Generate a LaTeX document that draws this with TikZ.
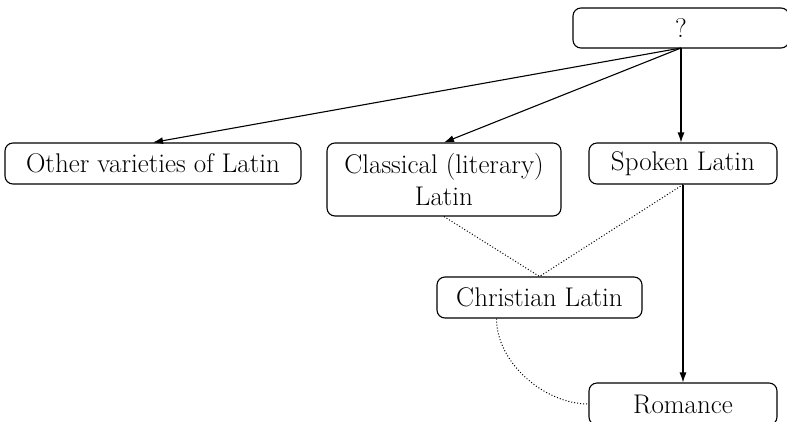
\documentclass[tikz,border=0pt]{standalone}
\usetikzlibrary{arrows.meta}
\begin{document}
\begin{tikzpicture}[x=1pt,y=1pt,
  box/.style={draw, line width=1.1pt, rounded corners=8pt, align=center, inner sep=0pt,
    font=\fontsize{27}{32}\selectfont},
  arr/.style={line width=1.1pt, -{Latex[length=10pt,width=7pt]}},
  dot/.style={line width=1pt, dotted}]
\clip (0,0) rectangle (787,-421);
\useasboundingbox (0,0) rectangle (787,-421);
\node[box, minimum width=216pt, minimum height=40pt] (q) at (681,-28) {?};
\node[box, minimum width=296pt, minimum height=41pt] (other) at (153,-163.5) {Other varieties of Latin};
\node[box, minimum width=234pt, minimum height=73pt] (classical) at (444,-179.5) {Classical (literary)\\Latin};
\node[box, minimum width=188pt, minimum height=41pt] (spoken) at (683,-163.5) {Spoken Latin};
\node[box, minimum width=205pt, minimum height=41pt] (christian) at (539.5,-297.5) {Christian Latin};
\node[box, minimum width=188pt, minimum height=42pt] (romance) at (683,-404) {Romance};
\coordinate (qs) at (681,-48);
\coordinate (cb) at ([xshift=-43pt]christian.south);
\draw[arr] (qs) -- (other.north);
\draw[arr] (qs) -- (classical.north);
\draw[arr] (qs) -- (qs |- spoken.north);
\draw[arr] (spoken.south) -- (romance.north);
\draw[dot] (classical.south) -- (christian.north);
\draw[dot] (spoken.south) -- (christian.north);
\draw[dot] (cb) to[out=-90, in=180, looseness=0.9] (romance.west);
\end{tikzpicture}
\end{document}
